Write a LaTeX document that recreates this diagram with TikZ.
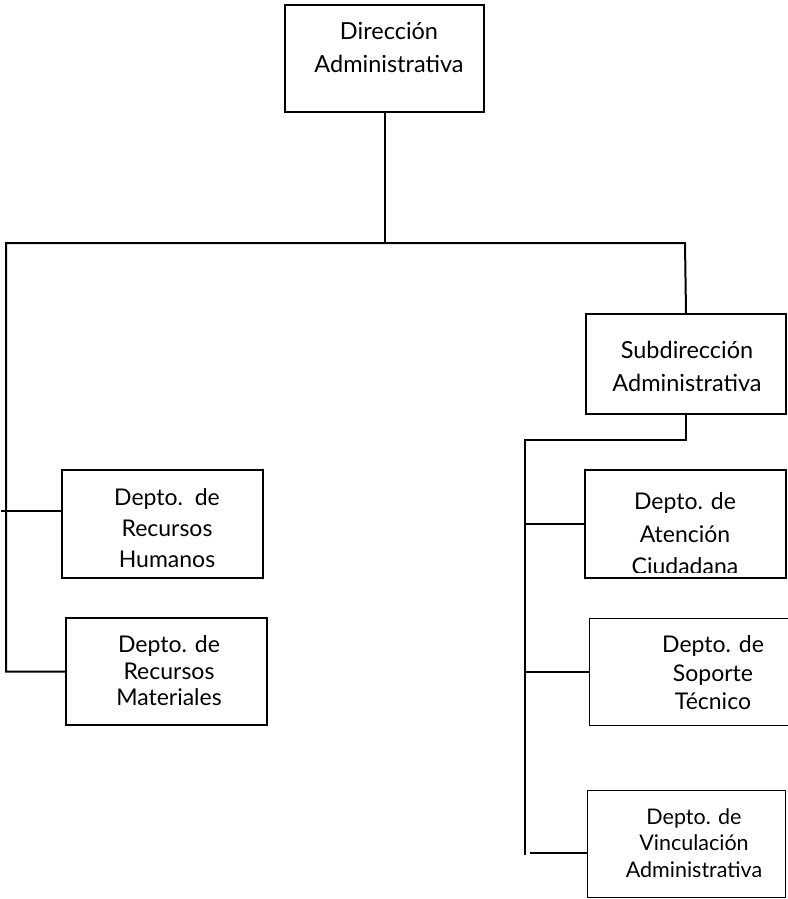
\documentclass[tikz,border=0pt]{standalone}
\usepackage{fontspec}
\setmainfont{Lato}
\begin{document}
\begin{tikzpicture}[x=1pt,y=-1pt,
  box/.style={draw, line width=2pt, inner sep=0pt, anchor=north west},
  thinbox/.style={box, line width=1.4pt},
  big/.style={align=center, inner sep=0pt, font=\fontsize{23.5}{33}\selectfont},
  small/.style={align=center, inner sep=0pt},
  conn/.style={line width=2pt}]
\path[use as bounding box] (0,0) rectangle (787,899);

% boxes
\node[box, minimum width=199pt, minimum height=107pt] (dir) at (284,4) {};
\node[box, minimum width=200pt, minimum height=100pt] (sub) at (585,313) {};
\node[box, minimum width=201pt, minimum height=108pt] (hum) at (61,469) {};
\node[box, minimum width=201pt, minimum height=107pt] (mat) at (65,617) {};
\node[box, minimum width=201pt, minimum height=108pt] (ate) at (584,469) {};
\node[thinbox, minimum width=204pt, minimum height=107pt] (sop) at (589,618) {};
\node[thinbox, minimum width=198pt, minimum height=107pt] (vin) at (587,790) {};

% texts
\node[big] (dirT) at (389,48) {Dirección\\Administrativa};
\node[big] (subT) at (687,366) {Subdirección\\Administrativa};
\node[small, font=\fontsize{23}{31}\selectfont] (humT) at (167,528) {Depto.\ \ de\\Recursos\\Humanos};
\node[small, font=\fontsize{23}{26.5}\selectfont] (matT) at (169,671) {Depto. de\\Recursos\\Materiales};
\begin{scope}
  \clip (ate.north west) rectangle ([yshift=7pt]ate.south east);
  \node[small, font=\fontsize{23}{32.5}\selectfont] (ateT) at (685,534) {Depto. de\\Atención\\Ciudadana};
\end{scope}
\node[small, font=\fontsize{23}{28.5}\selectfont] (sopT) at (713,673) {Depto. de\\Soporte\\Técnico};
\node[small, font=\fontsize{21.5}{26.5}\selectfont] (vinT) at (694,843) {Depto. de\\Vinculación\\Administrativa};

% connector coordinates
\coordinate (bl) at (6,243);
\coordinate (br) at (685,243);
\coordinate (bm) at (dir.south |- bl);
\coordinate (humL) at (1,511);
\coordinate (humR) at (hum.west |- humL);
\coordinate (matL) at (bl |- mat.west);
\coordinate (sl) at (525,440);
\coordinate (sm) at (sub.south |- sl);
\coordinate (ateL) at (sl |- ate.west);
\coordinate (sopL) at (sl |- sop.west);
\coordinate (vinY) at (587,853);
\coordinate (vinL) at (530,853);
\coordinate (send) at (525,855);

% connectors
\draw[conn] (dir.south) -- (bm);
\draw[conn] (mat.west) -- (matL) -- (bl) -- (br) -- (sub.north);
\draw[conn] (humL) -- (humR);
\draw[conn] (sub.south) -- (sm) -- (sl) -- (send);
\draw[conn] (ateL) -- (ate.west);
\draw[conn] (sopL) -- (sop.west);
\draw[conn] (vinL) -- (vinY);
\end{tikzpicture}
\end{document}
